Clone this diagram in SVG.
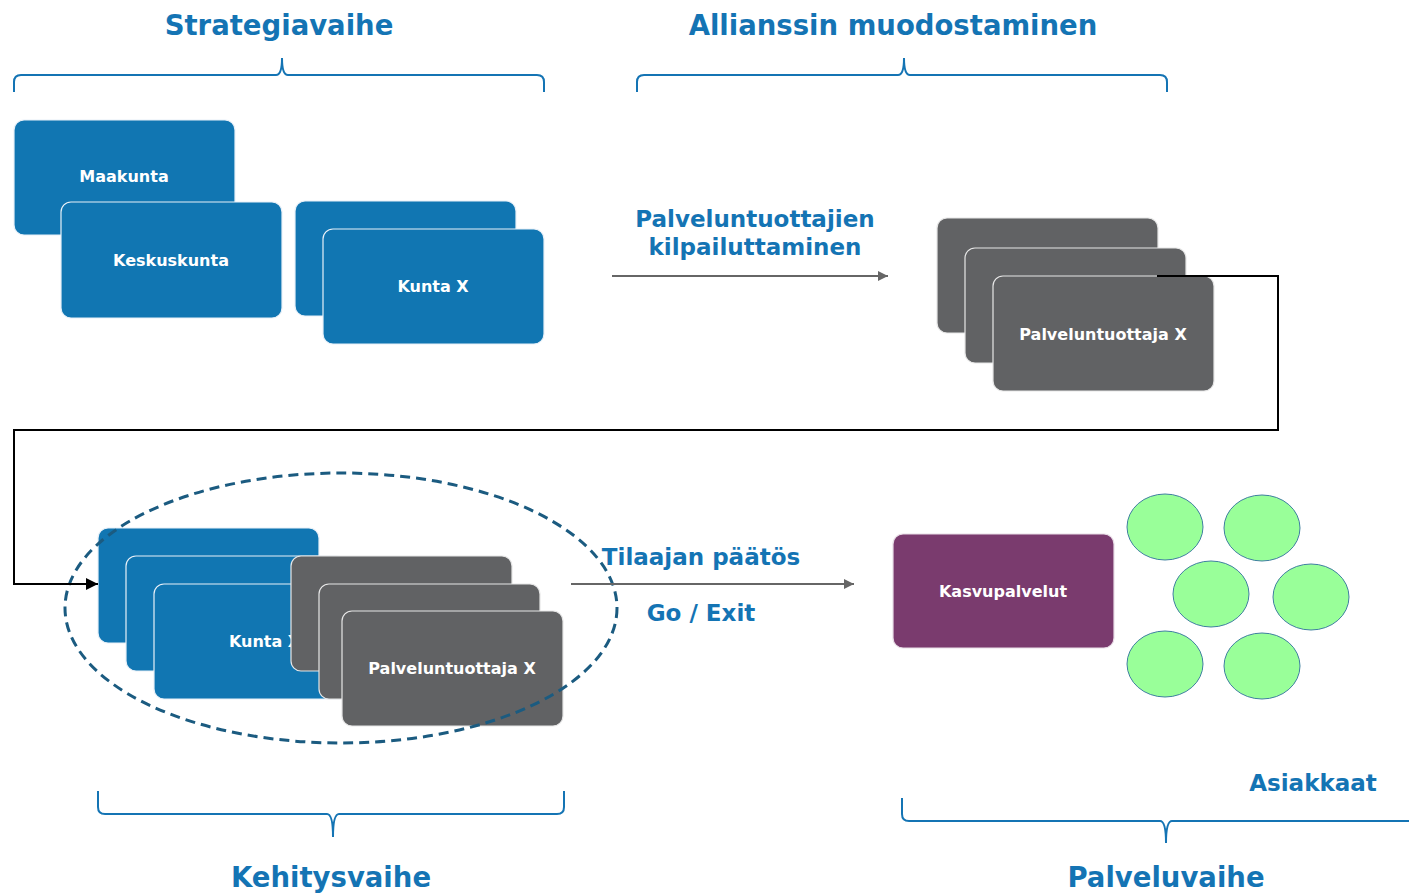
<svg xmlns="http://www.w3.org/2000/svg" width="1409" height="894" viewBox="0 0 1409 894">
<defs>
<style>
.title{font-family:"DejaVu Sans",Verdana,sans-serif;font-weight:bold;fill:#1474B4;text-anchor:middle}
.lbl{font-family:"DejaVu Sans",Verdana,sans-serif;font-weight:bold;font-size:16px;fill:#fff;text-anchor:middle;dominant-baseline:central}
.blue{fill:#1176B2;stroke:#e8f0f8;stroke-width:1.2}
.gray{fill:#616264;stroke:#e6e6e6;stroke-width:1.2}
.brace{fill:none;stroke:#1474B4;stroke-width:2}
.green{fill:#99FF99;stroke:#3F7FA0;stroke-width:1}
</style>
<marker id="ga" viewBox="0 0 10 10" refX="10" refY="5" markerWidth="10" markerHeight="10" markerUnits="userSpaceOnUse" orient="auto"><path d="M0,0L10,5L0,10z" fill="#666"/></marker>
<marker id="ba" viewBox="0 0 12 12" refX="12" refY="6" markerWidth="12" markerHeight="12" markerUnits="userSpaceOnUse" orient="auto"><path d="M0,0L12,6L0,12z" fill="#000"/></marker>
</defs>
<rect width="1409" height="894" fill="#fff"/>

<g id="titles">
<text class="title" x="279" y="35" font-size="27.5">Strategiavaihe</text>
<text class="title" x="893" y="35" font-size="27.5">Allianssin muodostaminen</text>
<text class="title" x="331" y="887" font-size="27.5">Kehitysvaihe</text>
<text class="title" x="1166" y="887" font-size="27.5">Palveluvaihe</text>
<text class="title" x="1313" y="791" font-size="23">Asiakkaat</text>
<text class="title" x="755" y="227" font-size="23">Palveluntuottajien</text>
<text class="title" x="755" y="255" font-size="23">kilpailuttaminen</text>
<text class="title" x="701" y="565" font-size="23">Tilaajan päätös</text>
<text class="title" x="701" y="621" font-size="23">Go / Exit</text>
</g>

<g id="braces">
<path class="brace" d="M14,92 L14,82 Q14,75 21,75 L276,75 Q282,75 282,58 Q282,75 288,75 L537,75 Q544,75 544,82 L544,92"/>
<path class="brace" d="M637,92 L637,82 Q637,75 644,75 L898,75 Q904,75 904,58 Q904,75 910,75 L1160,75 Q1167,75 1167,82 L1167,92"/>
<path class="brace" d="M98,791 L98,807 Q98,814 105,814 L327,814 Q333,814 333,837 Q333,814 339,814 L557,814 Q564,814 564,807 L564,791"/>
<path class="brace" d="M902,798 L902,814 Q902,821 909,821 L1160,821 Q1166,821 1166,843 Q1166,821 1172,821 L1409,821"/>
</g>

<g id="maakunta"><rect class="blue" x="14" y="120" width="221" height="115" rx="10"/><text class="lbl" x="124" y="176">Maakunta</text></g>
<g id="keskuskunta"><rect class="blue" x="61" y="202" width="221" height="116" rx="10"/><text class="lbl" x="171" y="260">Keskuskunta</text></g>
<g id="kunta-top"><rect class="blue" x="295" y="201" width="221" height="115" rx="10"/><rect class="blue" x="323" y="229" width="221" height="115" rx="10"/><text class="lbl" x="433" y="286">Kunta X</text></g>

<g id="tuottaja-top"><rect class="gray" x="937" y="218" width="221" height="115" rx="10"/><rect class="gray" x="965" y="248" width="221" height="115" rx="10"/><rect class="gray" x="993" y="276" width="221" height="115" rx="10"/><text class="lbl" x="1103" y="334">Palveluntuottaja X</text></g>

<g id="kunta-bottom"><rect class="blue" x="98" y="528" width="221" height="115" rx="10"/><rect class="blue" x="126" y="556" width="221" height="115" rx="10"/><rect class="blue" x="154" y="584" width="221" height="115" rx="10"/><text class="lbl" x="264.5" y="641">Kunta X</text></g>
<g id="tuottaja-bottom"><rect class="gray" x="291" y="556" width="221" height="115" rx="10"/><rect class="gray" x="319" y="584" width="221" height="115" rx="10"/><rect class="gray" x="342" y="611" width="221" height="115" rx="10"/><text class="lbl" x="452" y="668">Palveluntuottaja X</text></g>

<g id="alliance"><ellipse cx="341" cy="608" rx="276" ry="135" fill="none" stroke="#1B5B80" stroke-width="3" stroke-dasharray="10,6"/></g>

<g id="kasvupalvelut"><rect x="893" y="534" width="221" height="114" rx="10" fill="#7A3B6E" stroke="#e8dde6" stroke-width="1.2"/><text class="lbl" x="1003" y="591">Kasvupalvelut</text></g>

<g id="asiakkaat">
<ellipse class="green" cx="1165" cy="527" rx="38" ry="33"/>
<ellipse class="green" cx="1262" cy="528" rx="38" ry="33"/>
<ellipse class="green" cx="1211" cy="594" rx="38" ry="33"/>
<ellipse class="green" cx="1311" cy="597" rx="38" ry="33"/>
<ellipse class="green" cx="1165" cy="664" rx="38" ry="33"/>
<ellipse class="green" cx="1262" cy="666" rx="38" ry="33"/>
</g>

<g id="connectors">
<line x1="612" y1="276" x2="888" y2="276" stroke="#666" stroke-width="2" marker-end="url(#ga)"/>
<line x1="571" y1="584" x2="854" y2="584" stroke="#666" stroke-width="2" marker-end="url(#ga)"/>
<path d="M1157,276 L1278,276 L1278,430 L14,430 L14,584 L98,584" fill="none" stroke="#000" stroke-width="2" marker-end="url(#ba)"/>
</g>
</svg>
